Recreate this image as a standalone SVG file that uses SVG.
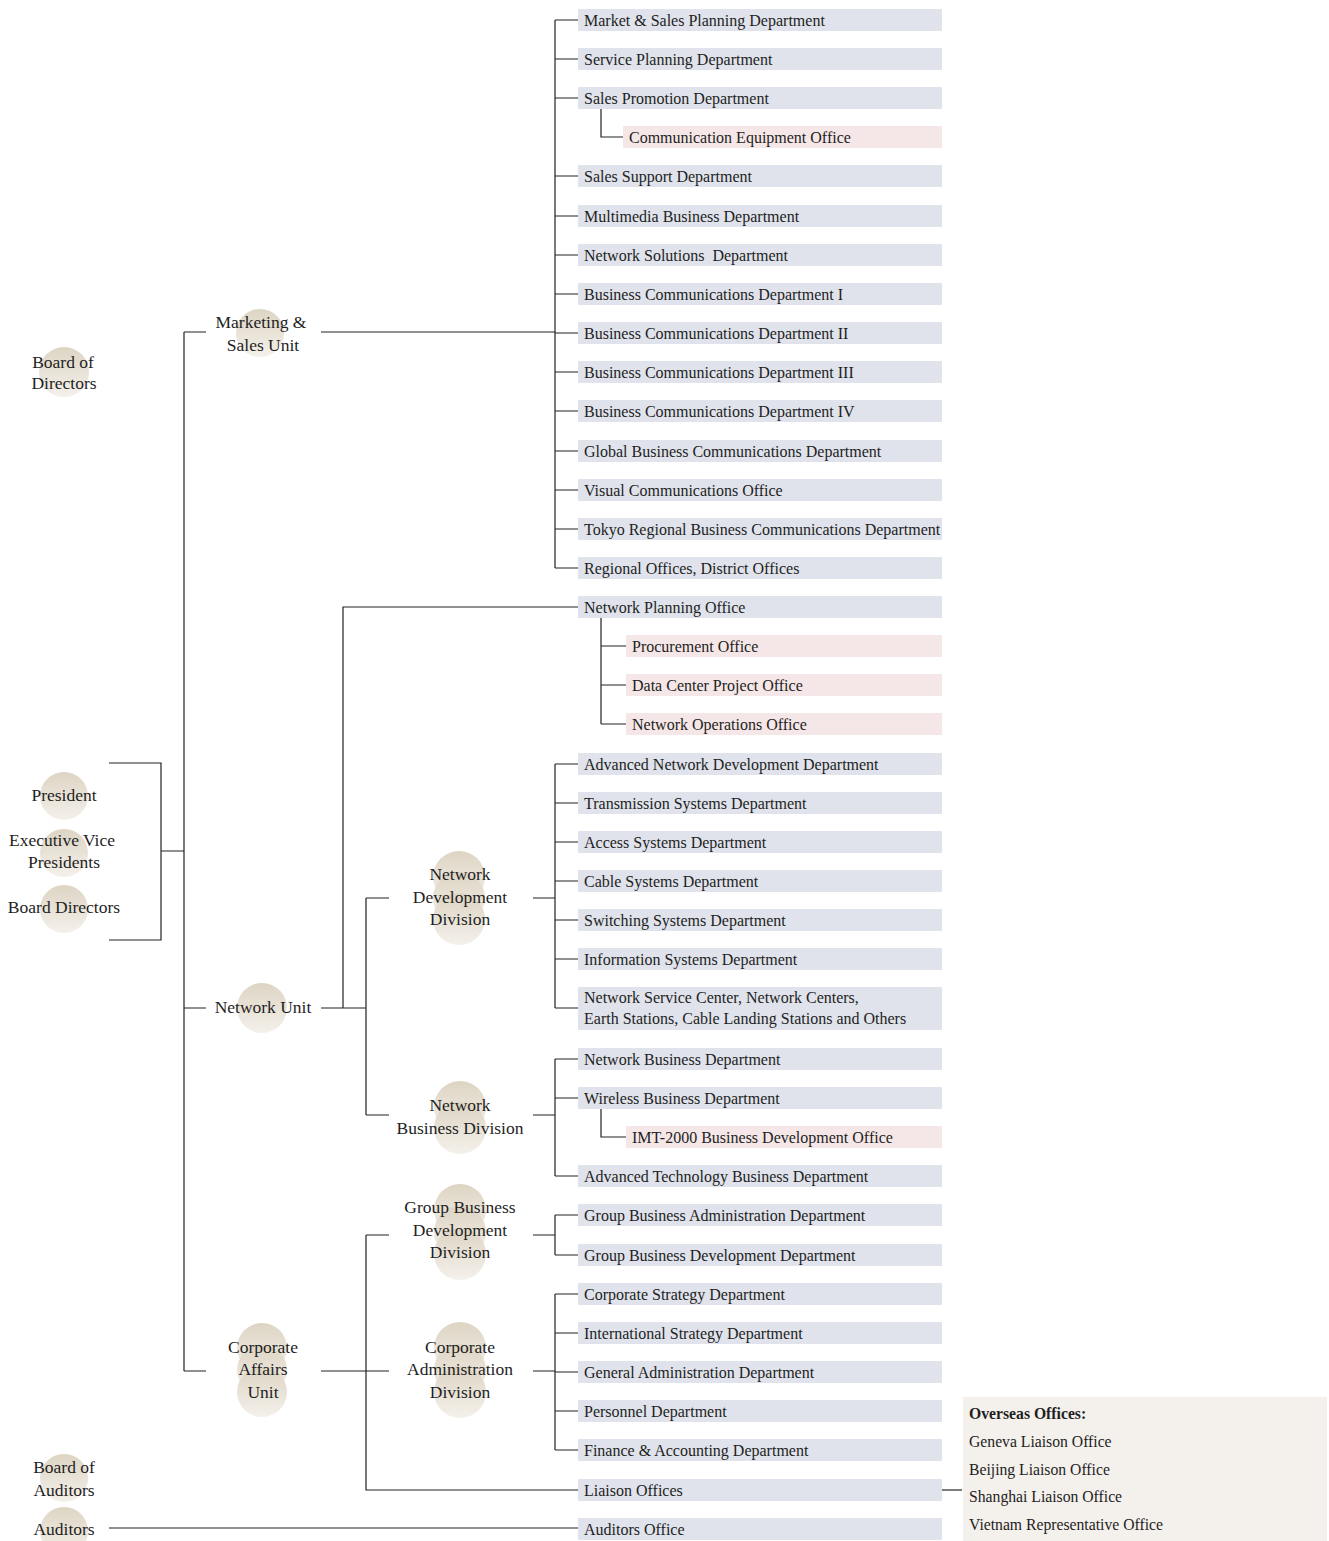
<svg xmlns="http://www.w3.org/2000/svg" width="1329" height="1541" viewBox="0 0 1329 1541">
<defs>
<linearGradient id="g" x1="0" y1="0" x2="0" y2="1">
<stop offset="0" stop-color="#ddd4c3"/>
<stop offset="1" stop-color="#f4f1eb"/>
</linearGradient>
<style>
text{font-family:"Liberation Serif","DejaVu Serif",serif;font-size:16px;fill:#1e1e1e}
.c{text-anchor:middle;font-size:17.5px}
.o{font-size:15.7px}
.d{fill:#e0e3eb}
.s{fill:#f5e7e7}
.ci{fill:url(#g)}
.ln{stroke:#222;stroke-width:1.2;fill:none}
.b{font-weight:bold}
</style>
</defs>
<rect width="1329" height="1541" fill="#fff"/>

<g id="connectors" class="ln">
<path d="M109 763H161V940H109M161 851H184"/>
<path d="M184 332V1371M184 332H206M184 1008H206M184 1371H206"/>
<path d="M321 332H555M555 20V568"/>
<path d="M555 20H578M555 59H578M555 98H578M555 176H578M555 216H578M555 255H578M555 294H578M555 333H578M555 372H578M555 411H578M555 451H578M555 490H578M555 529H578M555 568H578"/>
<path d="M601 109V137H623"/>
<path d="M321 1008H366M343 1008V607H578M366 898V1115M366 898H389M366 1115H389"/>
<path d="M601 618V724M601 646H626M601 685H626M601 724H626"/>
<path d="M533 898H555M555 764V1008M555 764H578M555 803H578M555 842H578M555 881H578M555 920H578M555 959H578M555 1008H578"/>
<path d="M533 1115H555M555 1059V1176M555 1059H578M555 1098H578M555 1176H578M601 1109V1137H626"/>
<path d="M321 1371H389M366 1235V1490H578M366 1235H389"/>
<path d="M533 1235H555M555 1215V1255M555 1215H578M555 1255H578"/>
<path d="M533 1371H555M555 1294V1450M555 1294H578M555 1333H578M555 1372H578M555 1411H578M555 1450H578"/>
<path d="M942 1490H962"/>
<path d="M109 1528H578"/>
</g>

<g id="board-of-directors"><circle class="ci" cx="64" cy="372" r="25"/><text class="c" x="63" y="368">Board of</text><text class="c" x="64" y="389">Directors</text></g>
<g id="president"><circle class="ci" cx="64" cy="796" r="24"/><text class="c" x="64" y="801">President</text></g>
<g id="executive-vice-presidents"><circle class="ci" cx="64" cy="853" r="24"/><text class="c" x="62" y="846">Executive Vice</text><text class="c" x="64" y="868">Presidents</text></g>
<g id="board-directors"><circle class="ci" cx="64" cy="909" r="24"/><text class="c" x="64" y="913">Board Directors</text></g>
<g id="board-of-auditors"><circle class="ci" cx="64" cy="1478" r="24"/><text class="c" x="64" y="1473">Board of</text><text class="c" x="64" y="1496">Auditors</text></g>
<g id="auditors"><circle class="ci" cx="64" cy="1531" r="24"/><text class="c" x="64" y="1535">Auditors</text></g>

<g id="marketing-sales-unit"><circle class="ci" cx="260" cy="333" r="24"/><text class="c" x="261" y="328">Marketing &amp;</text><text class="c" x="263" y="351">Sales Unit</text></g>
<g id="network-unit"><circle class="ci" cx="262" cy="1008" r="25"/><text class="c" x="263" y="1013">Network Unit</text></g>
<g id="corporate-affairs-unit"><circle class="ci" cx="262" cy="1348" r="25"/><circle class="ci" cx="262" cy="1370" r="25"/><circle class="ci" cx="262" cy="1392" r="25"/><text class="c" x="263" y="1353">Corporate</text><text class="c" x="263" y="1375">Affairs</text><text class="c" x="263" y="1398">Unit</text></g>

<g id="network-development-division"><circle class="ci" cx="459" cy="877" r="26"/><circle class="ci" cx="459" cy="898" r="26"/><circle class="ci" cx="459" cy="919" r="26"/><text class="c" x="460" y="880">Network</text><text class="c" x="460" y="903">Development</text><text class="c" x="460" y="925">Division</text></g>
<g id="network-business-division"><circle class="ci" cx="460" cy="1107" r="26"/><circle class="ci" cx="460" cy="1128" r="26"/><text class="c" x="460" y="1111">Network</text><text class="c" x="460" y="1134">Business Division</text></g>
<g id="group-business-development-division"><circle class="ci" cx="460" cy="1210" r="26"/><circle class="ci" cx="460" cy="1232" r="26"/><circle class="ci" cx="460" cy="1254" r="26"/><text class="c" x="460" y="1213">Group Business</text><text class="c" x="460" y="1236">Development</text><text class="c" x="460" y="1258">Division</text></g>
<g id="corporate-administration-division"><circle class="ci" cx="460" cy="1348" r="26"/><circle class="ci" cx="460" cy="1370" r="26"/><circle class="ci" cx="460" cy="1392" r="26"/><text class="c" x="460" y="1353">Corporate</text><text class="c" x="460" y="1375">Administration</text><text class="c" x="460" y="1398">Division</text></g>

<g id="d1"><rect class="d" x="578" y="9" width="364" height="22"/><text x="584" y="26">Market &amp; Sales Planning Department</text></g>
<g id="d2"><rect class="d" x="578" y="48" width="364" height="22"/><text x="584" y="65">Service Planning Department</text></g>
<g id="d3"><rect class="d" x="578" y="87" width="364" height="22"/><text x="584" y="104">Sales Promotion Department</text></g>
<g id="d3a"><rect class="s" x="623" y="126" width="319" height="22"/><text x="629" y="143">Communication Equipment Office</text></g>
<g id="d4"><rect class="d" x="578" y="165" width="364" height="22"/><text x="584" y="182">Sales Support Department</text></g>
<g id="d5"><rect class="d" x="578" y="205" width="364" height="22"/><text x="584" y="222">Multimedia Business Department</text></g>
<g id="d6"><rect class="d" x="578" y="244" width="364" height="22"/><text x="584" y="261" xml:space="preserve">Network Solutions  Department</text></g>
<g id="d7"><rect class="d" x="578" y="283" width="364" height="22"/><text x="584" y="300">Business Communications Department I</text></g>
<g id="d8"><rect class="d" x="578" y="322" width="364" height="22"/><text x="584" y="339">Business Communications Department II</text></g>
<g id="d9"><rect class="d" x="578" y="361" width="364" height="22"/><text x="584" y="378">Business Communications Department III</text></g>
<g id="d10"><rect class="d" x="578" y="400" width="364" height="22"/><text x="584" y="417">Business Communications Department IV</text></g>
<g id="d11"><rect class="d" x="578" y="440" width="364" height="22"/><text x="584" y="457">Global Business Communications Department</text></g>
<g id="d12"><rect class="d" x="578" y="479" width="364" height="22"/><text x="584" y="496">Visual Communications Office</text></g>
<g id="d13"><rect class="d" x="578" y="518" width="364" height="22"/><text x="584" y="535">Tokyo Regional Business Communications Department</text></g>
<g id="d14"><rect class="d" x="578" y="557" width="364" height="22"/><text x="584" y="574">Regional Offices, District Offices</text></g>

<g id="n1"><rect class="d" x="578" y="596" width="364" height="22"/><text x="584" y="613">Network Planning Office</text></g>
<g id="n1a"><rect class="s" x="626" y="635" width="316" height="22"/><text x="632" y="652">Procurement Office</text></g>
<g id="n1b"><rect class="s" x="626" y="674" width="316" height="22"/><text x="632" y="691">Data Center Project Office</text></g>
<g id="n1c"><rect class="s" x="626" y="713" width="316" height="22"/><text x="632" y="730">Network Operations Office</text></g>
<g id="n2"><rect class="d" x="578" y="753" width="364" height="22"/><text x="584" y="770">Advanced Network Development Department</text></g>
<g id="n3"><rect class="d" x="578" y="792" width="364" height="22"/><text x="584" y="809">Transmission Systems Department</text></g>
<g id="n4"><rect class="d" x="578" y="831" width="364" height="22"/><text x="584" y="848">Access Systems Department</text></g>
<g id="n5"><rect class="d" x="578" y="870" width="364" height="22"/><text x="584" y="887">Cable Systems Department</text></g>
<g id="n6"><rect class="d" x="578" y="909" width="364" height="22"/><text x="584" y="926">Switching Systems Department</text></g>
<g id="n7"><rect class="d" x="578" y="948" width="364" height="22"/><text x="584" y="965">Information Systems Department</text></g>
<g id="n8"><rect class="d" x="578" y="987" width="364" height="43"/><text x="584" y="1003">Network Service Center, Network Centers,</text><text x="584" y="1024">Earth Stations, Cable Landing Stations and Others</text></g>
<g id="n9"><rect class="d" x="578" y="1048" width="364" height="22"/><text x="584" y="1065">Network Business Department</text></g>
<g id="n10"><rect class="d" x="578" y="1087" width="364" height="22"/><text x="584" y="1104">Wireless Business Department</text></g>
<g id="n10a"><rect class="s" x="626" y="1126" width="316" height="22"/><text x="632" y="1143">IMT-2000 Business Development Office</text></g>
<g id="n11"><rect class="d" x="578" y="1165" width="364" height="22"/><text x="584" y="1182">Advanced Technology Business Department</text></g>

<g id="c1"><rect class="d" x="578" y="1204" width="364" height="22"/><text x="584" y="1221">Group Business Administration Department</text></g>
<g id="c2"><rect class="d" x="578" y="1244" width="364" height="22"/><text x="584" y="1261">Group Business Development Department</text></g>
<g id="c3"><rect class="d" x="578" y="1283" width="364" height="22"/><text x="584" y="1300">Corporate Strategy Department</text></g>
<g id="c4"><rect class="d" x="578" y="1322" width="364" height="22"/><text x="584" y="1339">International Strategy Department</text></g>
<g id="c5"><rect class="d" x="578" y="1361" width="364" height="22"/><text x="584" y="1378">General Administration Department</text></g>
<g id="c6"><rect class="d" x="578" y="1400" width="364" height="22"/><text x="584" y="1417">Personnel Department</text></g>
<g id="c7"><rect class="d" x="578" y="1439" width="364" height="22"/><text x="584" y="1456">Finance &amp; Accounting Department</text></g>
<g id="c8"><rect class="d" x="578" y="1479" width="364" height="22"/><text x="584" y="1496">Liaison Offices</text></g>
<g id="a1"><rect class="d" x="578" y="1518" width="364" height="22"/><text x="584" y="1535">Auditors Office</text></g>

<g id="overseas-offices"><rect x="963" y="1397" width="364" height="144" fill="#f4f0ec"/>
<text class="b o" x="969" y="1419">Overseas Offices:</text>
<text class="o" x="969" y="1447">Geneva Liaison Office</text>
<text class="o" x="969" y="1475">Beijing Liaison Office</text>
<text class="o" x="969" y="1502">Shanghai Liaison Office</text>
<text class="o" x="969" y="1530">Vietnam Representative Office</text>
</g>
</svg>
